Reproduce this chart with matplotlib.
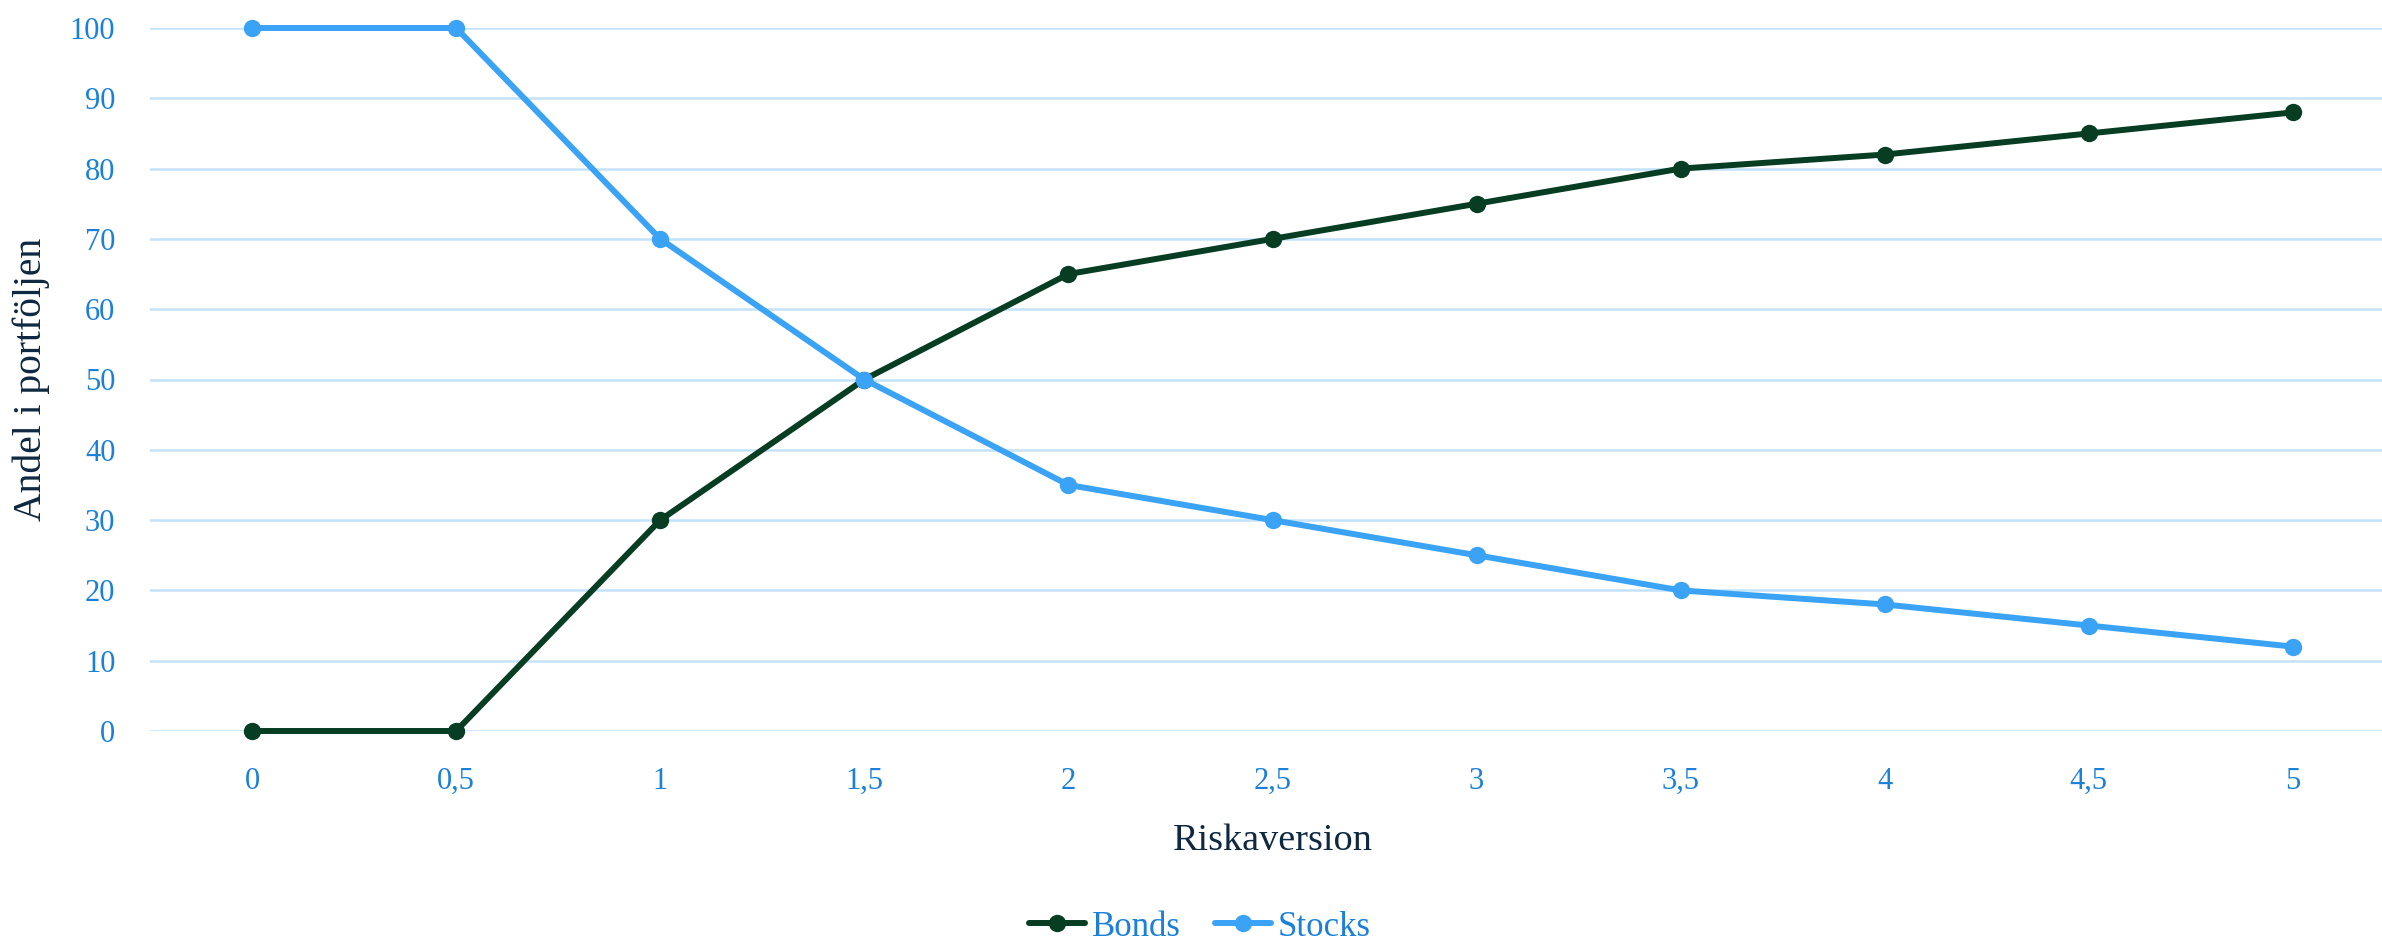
import matplotlib
matplotlib.use("Agg")
import matplotlib.pyplot as plt

categories = ["0", "0,5", "1", "1,5", "2", "2,5", "3", "3,5", "4", "4,5", "5"]
bonds = [0, 0, 30, 50, 65, 70, 75, 80, 82, 85, 88]
stocks = [100, 100, 70, 50, 35, 30, 25, 20, 18, 15, 12]
yticks = [0, 10, 20, 30, 40, 50, 60, 70, 80, 90, 100]

FONT = ["Liberation Serif", "DejaVu Serif"]
TICK_C = "#1a80d9"
TITLE_C = "#0d2840"
GRID_C = "#c3e2fb"
BOND_C = "#073d22"
STOCK_C = "#3aa3f5"

W, H = 2382, 940
fig = plt.figure(figsize=(W / 100, H / 100), dpi=100)
left, right = 150 / W, 2395 / W
bottom, top = (H - 731) / H, (H - 28) / H
ax = fig.add_axes([left, bottom, right - left, top - bottom])

x = list(range(len(categories)))
ax.plot(x, bonds, color=BOND_C, lw=4.3, marker="o", ms=12.5, mew=0, label="Bonds",
        clip_on=False, zorder=3, solid_capstyle="round")
ax.plot(x, stocks, color=STOCK_C, lw=4.3, marker="o", ms=12.5, mew=0, label="Stocks",
        clip_on=False, zorder=4, solid_capstyle="round")

ax.set_xlim(-0.5, len(categories) - 0.5)
ax.set_ylim(0, 100)
ax.set_xticks(x)
ax.set_xticklabels(categories)
ax.set_yticks(yticks)
ax.set_yticklabels([str(v) for v in yticks])
for s in ax.spines.values():
    s.set_visible(False)
ax.grid(axis="y", color=GRID_C, lw=1.8, zorder=0)
ax.set_axisbelow(True)
ax.tick_params(axis="both", length=0, labelsize=22, labelcolor=TICK_C)
ax.tick_params(axis="y", pad=25)
ax.tick_params(axis="x", pad=26)
for lab in ax.get_xticklabels() + ax.get_yticklabels():
    lab.set_fontfamily(FONT)

ax.set_xlabel("Riskaversion", fontsize=27.5, color=TITLE_C, family=FONT, labelpad=20)
ax.set_ylabel("Andel i portföljen", fontsize=28.5, color=TITLE_C, family=FONT, labelpad=14)

fig.legend(loc="center", bbox_to_anchor=(1200 / W, 1 - 927 / H), ncol=2, frameon=False,
           prop={"family": FONT, "size": 25}, labelcolor=TICK_C,
           handlelength=1.6, handletextpad=0.2, columnspacing=1.0)

fig.savefig("out.png", dpi=100)
